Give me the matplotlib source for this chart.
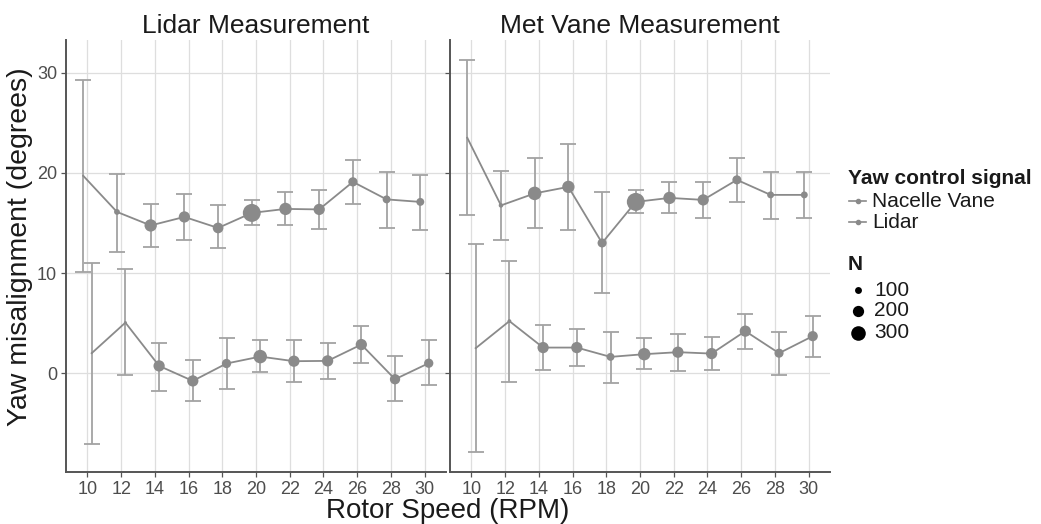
import numpy as np
import matplotlib.pyplot as plt
from matplotlib.lines import Line2D

plt.rcParams['font.family'] = ['Liberation Sans', 'DejaVu Sans']

rpm = [10, 12, 14, 16, 18, 20, 22, 24, 26, 28, 30]
panels = ['Lidar Measurement', 'Met Vane Measurement']
signals = ['Nacelle Vane', 'Lidar']

# Lidar Measurement panel
lidar_nv_mean = [19.7, 16.1, 14.75, 15.6, 14.5, 16.0, 16.4, 16.35, 19.1, 17.35, 17.1]
lidar_nv_lo = [10.1, 12.1, 12.6, 13.3, 12.5, 14.75, 14.75, 14.4, 16.85, 14.5, 14.3]
lidar_nv_hi = [29.3, 19.9, 16.9, 17.9, 16.75, 17.3, 18.1, 18.3, 21.3, 20.1, 19.8]
lidar_nv_n = [25, 80, 230, 200, 185, 420, 230, 200, 150, 120, 120]

lidar_li_mean = [2.0, 5.05, 0.73, -0.77, 0.97, 1.66, 1.2, 1.23, 2.86, -0.6, 1.0]
lidar_li_lo = [-7.1, -0.2, -1.76, -2.8, -1.6, 0.13, -0.86, -0.53, 0.97, -2.82, -1.16]
lidar_li_hi = [11.0, 10.4, 3.06, 1.33, 3.56, 3.3, 3.3, 3.06, 4.7, 1.73, 3.3]
lidar_li_n = [25, 40, 200, 200, 150, 265, 200, 200, 200, 175, 150]

# Met Vane Measurement panel
met_nv_mean = [23.5, 16.75, 17.95, 18.6, 13.0, 17.1, 17.5, 17.3, 19.3, 17.8, 17.8]
met_nv_lo = [15.75, 13.3, 14.5, 14.3, 8.05, 16.0, 16.0, 15.5, 17.1, 15.35, 15.5]
met_nv_hi = [31.3, 20.2, 21.5, 22.9, 18.1, 18.3, 19.1, 19.1, 21.5, 20.1, 20.1]
met_nv_n = [25, 60, 265, 230, 145, 420, 230, 200, 145, 100, 100]

met_li_mean = [2.5, 5.2, 2.56, 2.56, 1.63, 1.9, 2.1, 1.96, 4.2, 2.0, 3.7]
met_li_lo = [-7.9, -0.86, 0.3, 0.73, -0.93, 0.4, 0.23, 0.33, 2.46, -0.17, 1.66]
met_li_hi = [12.9, 11.2, 4.8, 4.4, 4.1, 3.5, 3.96, 3.66, 5.95, 4.1, 5.7]
met_li_n = [25, 50, 200, 200, 120, 232, 200, 200, 200, 146, 173]

size_breaks = [100, 200, 300]

data = {
    'Lidar Measurement': [
        (lidar_nv_mean, lidar_nv_lo, lidar_nv_hi, lidar_nv_n),
        (lidar_li_mean, lidar_li_lo, lidar_li_hi, lidar_li_n),
    ],
    'Met Vane Measurement': [
        (met_nv_mean, met_nv_lo, met_nv_hi, met_nv_n),
        (met_li_mean, met_li_lo, met_li_hi, met_li_n),
    ],
}

PT_PER_PX = 0.72
point_col = '#8a8a8a'
err_col = '#a3a3a3'
axis_col = '#555555'
grid_col = '#dedede'
text_col = '#4d4d4d'
dodge = [-0.25, 0.25]


def dot_px(n):
    # diameter in pixels, linear in sqrt(N) like ggplot's area scale
    return np.clip(1.05 * np.sqrt(np.asarray(n, float)) - 3.6, 1.5, None)


all_lo = lidar_nv_lo + lidar_li_lo + met_nv_lo + met_li_lo
all_hi = lidar_nv_hi + lidar_li_hi + met_nv_hi + met_li_hi
ymin, ymax = min(all_lo), max(all_hi)
ypad = 0.05 * (ymax - ymin)
xmin, xmax = rpm[0] + dodge[0], rpm[-1] + dodge[1]
xpad = 0.05 * (xmax - xmin)

fig = plt.figure(figsize=(10.41, 5.24), dpi=100)
W, H = 1041, 524
ax_left = [66, 450]
ax_w = 380
ax_top, ax_bot = 40, 472

for i, panel in enumerate(panels):
    ax = fig.add_axes([ax_left[i] / W, 1 - ax_bot / H, ax_w / W, (ax_bot - ax_top) / H])
    for j, (mean, lo, hi, n) in enumerate(data[panel]):
        x = np.array(rpm) + dodge[j]
        m = np.array(mean)
        ax.errorbar(x, m, yerr=[m - np.array(lo), np.array(hi) - m], fmt='none',
                    ecolor=err_col, elinewidth=1.3, capsize=5.8, capthick=1.3, zorder=2)
        ax.plot(x, m, color=point_col, lw=1.3, zorder=3)
        ax.scatter(x, m, s=(dot_px(n) * PT_PER_PX) ** 2, color=point_col,
                   linewidths=0, zorder=4)

    ax.set_xlim(xmin - xpad, xmax + xpad)
    ax.set_ylim(ymin - ypad, ymax + ypad)
    ax.set_xticks(rpm)
    ax.set_yticks([0, 10, 20, 30])
    ax.grid(True, color=grid_col, lw=0.9, zorder=0)
    ax.set_axisbelow(True)
    for s in ['top', 'right']:
        ax.spines[s].set_visible(False)
    for s in ['left', 'bottom']:
        ax.spines[s].set_color(axis_col)
        ax.spines[s].set_linewidth(1.4)
    ax.tick_params(direction='out', length=3.5, width=0.9, color=axis_col,
                   labelsize=13, labelcolor=text_col, pad=3)
    if i == 1:
        ax.tick_params(axis='y', labelleft=False)
    ax.set_title(panel, fontsize=19, pad=5, color='#1a1a1a')

fig.text((66 + 830) / 2 / W, 1 - 511 / H, 'Rotor Speed (RPM)', fontsize=20,
         ha='center', va='center', color='#1a1a1a')
fig.text(20 / W, 1 - 247 / H, 'Yaw misalignment (degrees)', fontsize=20.5,
         ha='center', va='center', rotation=90, color='#1a1a1a')

# legends
fig.text(848 / W, 1 - 178 / H, 'Yaw control signal', fontsize=15, fontweight='bold',
         ha='left', va='center', color='#1a1a1a')
for k, (lab, yy) in enumerate(zip(signals, [201, 222])):
    yf = 1 - yy / H
    fig.add_artist(Line2D([849 / W, 866 / W], [yf, yf], color=point_col, lw=1.2,
                          transform=fig.transFigure))
    fig.add_artist(Line2D([857.5 / W], [yf], marker='o', ms=3, color=point_col,
                          transform=fig.transFigure))
    fig.text(872 / W, yf, lab, fontsize=15, ha='left', va='center', color='#1a1a1a')

fig.text(848 / W, 1 - 265 / H, 'N', fontsize=15, fontweight='bold',
         ha='left', va='center', color='#1a1a1a')
for nb, yy in zip(size_breaks, [290, 311, 333]):
    yf = 1 - yy / H
    fig.add_artist(Line2D([858 / W], [yf], marker='o', ms=float(dot_px(nb)) * PT_PER_PX,
                          color='black', mew=0, transform=fig.transFigure))
    fig.text(874 / W, yf, str(nb), fontsize=15, ha='left', va='center', color='#1a1a1a')

fig.savefig('out.png', dpi=100)
